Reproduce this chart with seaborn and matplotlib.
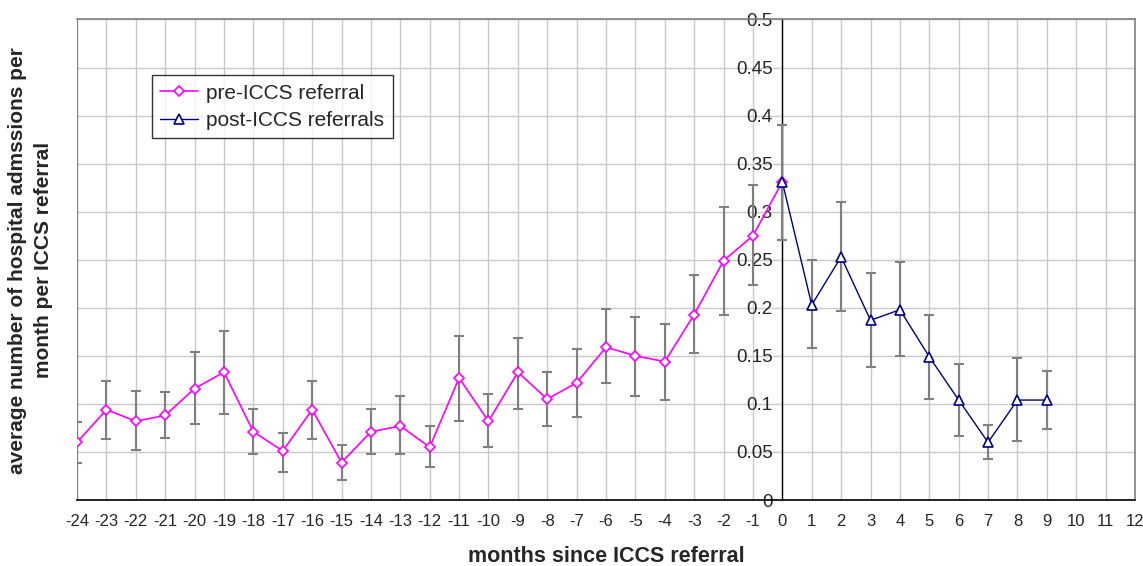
"""
Average hospital admissions per month per ICCS referral, before and after
referral, with error bars. Writes out.png.
"""

import matplotlib
matplotlib.use("Agg")
import matplotlib.pyplot as plt
import numpy as np
import pandas as pd
import seaborn as sns

# ---------------------------------------------------------------------------
# Data
# ---------------------------------------------------------------------------

months_pre = [-24, -23, -22, -21, -20, -19, -18, -17, -16, -15, -14, -13,
              -12, -11, -10, -9, -8, -7, -6, -5, -4, -3, -2, -1, 0]
pre_mean = [0.060, 0.094, 0.082, 0.088, 0.116, 0.133, 0.071, 0.051, 0.094,
            0.039, 0.071, 0.077, 0.055, 0.127, 0.082, 0.133, 0.105, 0.122,
            0.159, 0.150, 0.144, 0.193, 0.249, 0.275, 0.331]
pre_lo = [0.039, 0.063, 0.052, 0.064, 0.079, 0.090, 0.048, 0.029, 0.063,
          0.021, 0.048, 0.048, 0.034, 0.082, 0.055, 0.095, 0.077, 0.086,
          0.122, 0.108, 0.104, 0.153, 0.192, 0.224, 0.271]
pre_hi = [0.081, 0.124, 0.113, 0.112, 0.154, 0.176, 0.095, 0.070, 0.124,
          0.057, 0.095, 0.108, 0.077, 0.171, 0.110, 0.169, 0.133, 0.157,
          0.199, 0.190, 0.183, 0.234, 0.305, 0.328, 0.390]

months_post = [0, 1, 2, 3, 4, 5, 6, 7, 8, 9]
post_mean = [0.331, 0.203, 0.253, 0.187, 0.198, 0.149, 0.104, 0.060, 0.104, 0.104]
post_lo = [0.271, 0.158, 0.197, 0.138, 0.150, 0.105, 0.067, 0.043, 0.061, 0.074]
post_hi = [0.390, 0.250, 0.310, 0.236, 0.248, 0.193, 0.141, 0.078, 0.148, 0.134]

x_ticks = list(range(-24, 13))
y_ticks = [0, 0.05, 0.1, 0.15, 0.2, 0.25, 0.3, 0.35, 0.4, 0.45, 0.5]
y_ticklabels = ["0", "0.05", "0.1", "0.15", "0.2", "0.25", "0.3", "0.35",
                "0.4", "0.45", "0.5"]

PRE_COLOR = "#FF00FF"
POST_COLOR = "#000080"
ERR_COLOR = "#808080"
GRID_COLOR = "#C8C8C8"

# ---------------------------------------------------------------------------
# Plot
# ---------------------------------------------------------------------------

sns.set_style("white")
plt.rcParams["font.family"] = ["Liberation Sans", "DejaVu Sans"]

pre_df = pd.DataFrame({"month": months_pre, "mean": pre_mean})
post_df = pd.DataFrame({"month": months_post, "mean": post_mean})

fig = plt.figure(figsize=(11.43, 5.66), dpi=100)
ax = fig.add_axes([0.0674, 0.1166, 0.9256, 0.849])

# error bars (behind the lines)
for m, lo, hi in ((months_pre, pre_lo, pre_hi), (months_post, post_lo, post_hi)):
    m = np.asarray(m)
    mid = (np.asarray(lo) + np.asarray(hi)) / 2
    half = (np.asarray(hi) - np.asarray(lo)) / 2
    ax.errorbar(m, mid, yerr=half, fmt="none", ecolor=ERR_COLOR,
                elinewidth=1.5, capsize=3.8, capthick=1.5, zorder=3)

sns.lineplot(data=pre_df, x="month", y="mean", ax=ax, color=PRE_COLOR,
             linewidth=1.2, marker="D", markersize=5.5,
             markerfacecolor="white", markeredgecolor=PRE_COLOR,
             markeredgewidth=1.2, label="pre-ICCS referral", zorder=4)
sns.lineplot(data=post_df, x="month", y="mean", ax=ax, color=POST_COLOR,
             linewidth=1.0, marker="^", markersize=7,
             markerfacecolor="white", markeredgecolor=POST_COLOR,
             markeredgewidth=1.2, label="post-ICCS referrals", zorder=5)

ax.set_xlim(-24, 12)
ax.set_ylim(0, 0.5)

ax.set_xticks(x_ticks)
ax.set_xticklabels([str(t) for t in x_ticks])
ax.set_yticks(y_ticks)
ax.set_yticklabels(y_ticklabels)

ax.grid(True, color=GRID_COLOR, linewidth=1.0)
ax.set_axisbelow(True)

# value axis crosses at x = 0
ax.spines["left"].set_position(("data", 0))
ax.spines["left"].set_color("black")
ax.spines["left"].set_linewidth(1.0)
ax.spines["left"].set_zorder(2)
ax.spines["bottom"].set_color("black")
ax.spines["bottom"].set_linewidth(1.2)
for side in ("top", "right"):
    ax.spines[side].set_color("#808080")
    ax.spines[side].set_linewidth(1.2)
ax.axvline(-24, color="#808080", linewidth=1.5, zorder=1)

ax.tick_params(axis="y", direction="inout", length=10, width=1.0,
               color="black", pad=2, labelsize=13.5)
ax.tick_params(axis="x", direction="out", length=5, width=1.0,
               color="black", pad=5, labelsize=12)

ax.set_xlabel("months since ICCS referral", fontsize=15.5, fontweight="bold",
              labelpad=12)
ax.set_ylabel("")
fig.text(0.027, 0.54, "average number of hospital admssions per\n"
         "month per ICCS referral", rotation=90, ha="center", va="center",
         fontsize=15, fontweight="bold", linespacing=1.45)

leg = ax.legend(loc="upper left", bbox_to_anchor=(0.071, 0.884),
                borderaxespad=0, fontsize=15, frameon=True, fancybox=False,
                handlelength=1.8, handletextpad=0.4, borderpad=0.4,
                labelspacing=0.4)
leg.get_frame().set_edgecolor("black")
leg.get_frame().set_linewidth(1.0)

fig.savefig("out.png", dpi=100, facecolor="white")
plt.close(fig)
